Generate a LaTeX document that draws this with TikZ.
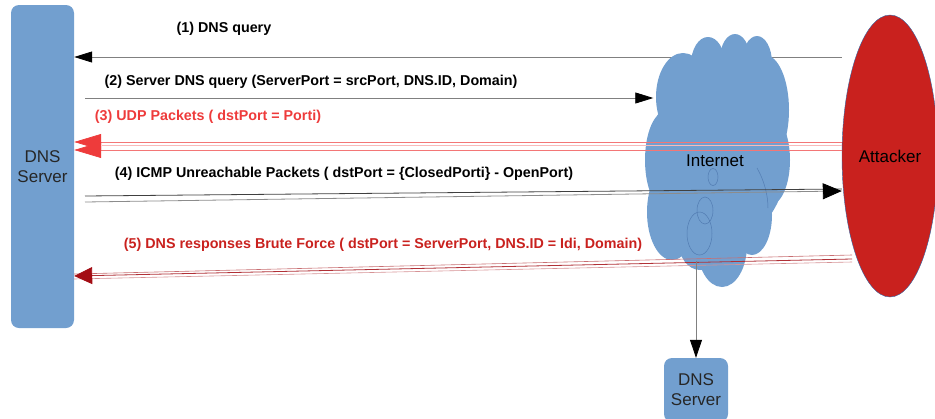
\documentclass[tikz,border=0pt]{standalone}
\usepackage{fontspec}
\setmainfont{Liberation Sans}
\usetikzlibrary{arrows.meta,shapes.geometric}
\definecolor{boxblue}{HTML}{729FCF}
\definecolor{boxedge}{HTML}{3465A4}
\definecolor{attred}{HTML}{C9211E}
\definecolor{udpred}{HTML}{EE3B3B}
\definecolor{bfred}{HTML}{A30D14}

\begin{document}
\begin{tikzpicture}[x=1pt,y=-1pt,
  every node/.style={font=\fontsize{17}{20}\selectfont},
  server/.style={fill=boxblue,rounded corners=8pt,align=center,text=black!85,inner sep=0},
  msg/.style={font=\fontsize{14.3}{17}\selectfont\bfseries},
  wire/.style={draw=gray,line width=0.8pt},
  tip/.style={-{Triangle[length=18pt,width=11pt,black]}}]
  \useasboundingbox (0,0) rectangle (935,418);

  \node[server,minimum width=63,minimum height=323] (srv) at (42.5,166.5) {DNS\\Server};
  \node[ellipse,fill=attred,draw=boxedge,line width=0.4pt,minimum width=96,minimum height=282,inner sep=0] (att) at (890,156) {Attacker};
  \node[server,minimum width=64,minimum height=64] (dns2) at (696,390) {DNS\\Server};

  % (1) passes behind the cloud
  \draw[wire,tip] (att.west |- 0,57) -- (srv.east |- 0,57);

  % the cloud, built from puffs
  \foreach \cx/\cy/\rx/\ry in {717/160/70/85, 683/97/27/44, 708/64/17/27, 735/59/15/25,
      757/63/15/27, 765/110/24/55, 770/160/20/45, 665/160/20/48, 672/212/25/48,
      722/245/25/42, 752/215/20/40, 700/240/22/30, 735/88/38/30}
    \fill[boxblue] (\cx,\cy) ellipse (\rx pt and \ry pt);
  \node[minimum width=145,minimum height=251,inner sep=0] (net) at (715,161) {Internet};
  \draw[boxedge!85,line width=0.5pt] (713,177) ellipse (5pt and 8.5pt)
    (705,210.5) ellipse (8pt and 13.5pt) (699.5,233.5) ellipse (12.5pt and 21.5pt);
  \draw[boxedge!85,line width=0.5pt] (757,168) .. controls (764,180) and (768,195) .. (768,208);

  % (2)
  \coordinate (q2) at (85,98);
  \draw[wire,tip,shorten >=-11pt] (q2) -- (q2 -| net.west);

  % (3)
  \draw[udpred!70,line width=0.7pt,-{Triangle[length=27pt,width=16pt,udpred]}] (att.west |- 0,142) -- (srv.east |- 0,142);
  \draw[udpred!70,line width=0.7pt,-{Triangle[length=27pt,width=16pt,udpred]}] (att.west |- 0,150) -- (srv.east |- 0,150);
  \draw[udpred!35,line width=0.6pt] (att.west |- 0,145.5) -- (102,145.5);

  % (4)
  \coordinate (q4a) at (85,196);
  \coordinate (q4b) at (85,202);
  \draw[black!75,line width=0.8pt] (q4a) -- (att.west |- 0,189);
  \draw[black!45,line width=0.8pt,-{Triangle[length=19pt,width=16pt,black]}] (q4b) -- (att.west |- 0,191);

  % (5)
  \coordinate (q5a) at (852,255);
  \coordinate (q5b) at (852,259);
  \coordinate (q5c) at (852,262);
  \draw[bfred!60,line width=0.6pt] (q5a) -- (srv.east |- 0,274);
  \draw[bfred!45,line width=0.6pt] (q5c) -- (srv.east |- 0,279);
  \draw[bfred!85,line width=0.8pt,-{Triangle[length=18pt,width=17pt,bfred]}] (q5b) -- (srv.east |- 0,276);

  % down to the second server
  \coordinate (drop) at (696,261);
  \draw[wire,-{Triangle[length=18pt,width=12pt,black]}] (drop) -- (dns2.north);

  \foreach \name/\x/\y/\col/\txt in {
      one/224/29/black/{(1) DNS query},
      two/311/82/black/{(2) Server DNS query (ServerPort = srcPort, DNS.ID, Domain)},
      three/208/117/udpred/{(3) UDP Packets ( dstPort = Porti)},
      four/344/174/black/{(4) ICMP Unreachable Packets ( dstPort = \{ClosedPorti\} - OpenPort)},
      five/383/245/attred/{(5) DNS responses Brute Force ( dstPort = ServerPort, DNS.ID = Idi, Domain)}}
    \node[msg,text=\col] (lbl\name) at (\x,\y) {\txt};
\end{tikzpicture}
\end{document}
